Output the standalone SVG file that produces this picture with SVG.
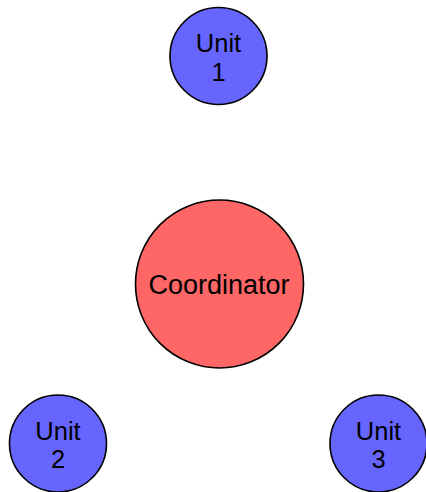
<svg xmlns="http://www.w3.org/2000/svg" width="426" height="492" viewBox="0 0 426 492">
  <style>
    .node { stroke: #000; stroke-width: 1.6; }
    .unit { fill: #6666ff; }
    .coord { fill: #ff6666; }
    text { font-family: "Liberation Sans", Arial, sans-serif; font-size: 27px; fill: #000; text-anchor: middle; }
    .lbl { font-size: 25.5px; }
  </style>
  <g id="connectors"></g>
  <g id="coordinator">
    <circle class="node coord" cx="219.5" cy="284" r="84"/>
    <text x="219" y="294">Coordinator</text>
  </g>
  <g id="unit1">
    <circle class="node unit" cx="218.5" cy="56" r="48.5"/>
    <text class="lbl" x="218.5" y="52">Unit<tspan x="218.5" dy="28.5">1</tspan></text>
  </g>
  <g id="unit2">
    <circle class="node unit" cx="58" cy="443.5" r="48.5"/>
    <text class="lbl" x="58" y="439.5">Unit<tspan x="58" dy="28.5">2</tspan></text>
  </g>
  <g id="unit3">
    <circle class="node unit" cx="378.5" cy="443.5" r="48.5"/>
    <text class="lbl" x="378.5" y="439.5">Unit<tspan x="378.5" dy="28.5">3</tspan></text>
  </g>
</svg>
